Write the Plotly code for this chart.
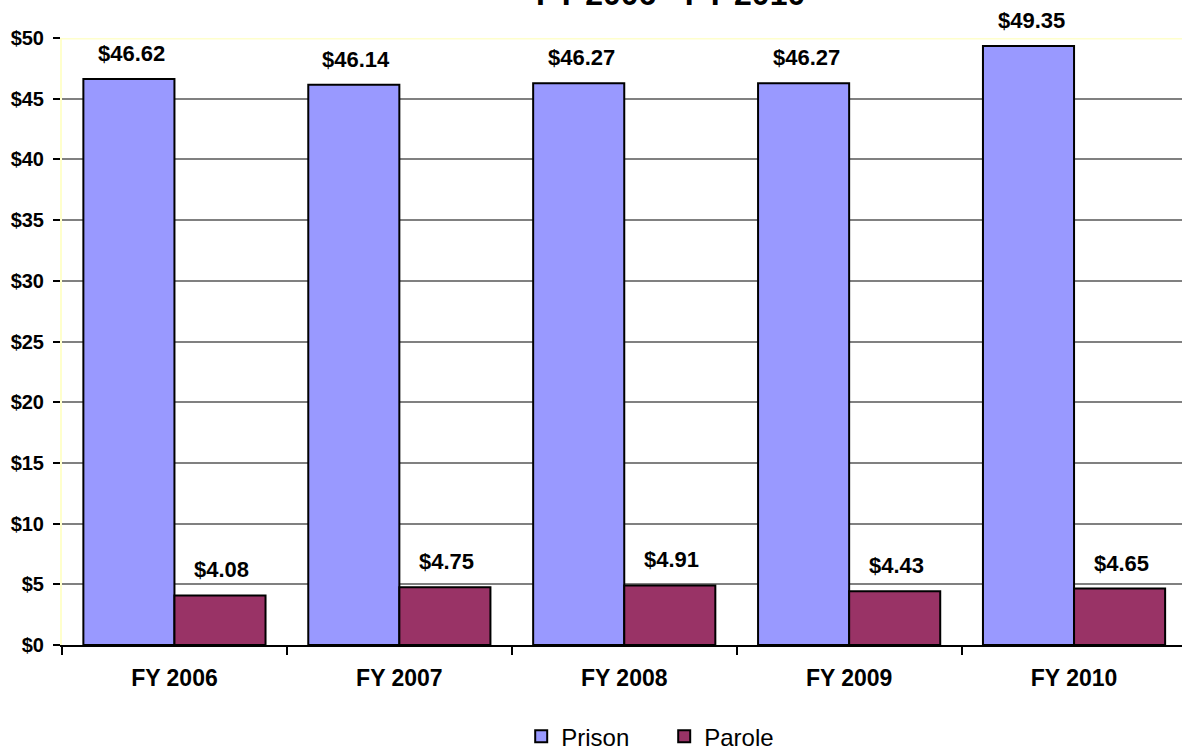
import plotly.graph_objects as go

categories = ["FY 2006", "FY 2007", "FY 2008", "FY 2009", "FY 2010"]
prison = [46.62, 46.14, 46.27, 46.27, 49.35]
parole = [4.08, 4.75, 4.91, 4.43, 4.65]
title_text = "FY 2006 - FY 2010"

FONT = "Liberation Sans, Arial, sans-serif"

fig = go.Figure()
fig.add_trace(go.Bar(name="Prison", x=categories, y=prison,
                     marker=dict(color="#9999FF", line=dict(color="black", width=2))))
fig.add_trace(go.Bar(name="Parole", x=categories, y=parole,
                     marker=dict(color="#993366", line=dict(color="black", width=2))))

annotations = []
for c, v in zip(categories, prison):
    annotations.append(dict(x=c, y=v, xref="x", yref="y", text=f"<b>${v:.2f}</b>",
                            showarrow=False, xshift=-43, yshift=11, yanchor="bottom",
                            font=dict(size=22, color="black", family=FONT)))
for c, v in zip(categories, parole):
    annotations.append(dict(x=c, y=v, xref="x", yref="y", text=f"<b>${v:.2f}</b>",
                            showarrow=False, xshift=47, yshift=11, yanchor="bottom",
                            font=dict(size=22, color="black", family=FONT)))
annotations.append(dict(x=0.5, y=1, xref="paper", yref="paper", text=f"<b>{title_text}</b>",
                        showarrow=False, yanchor="bottom", yshift=24, xshift=48,
                        font=dict(size=32, color="black", family=FONT)))

fig.update_layout(
    width=1182, height=751,
    margin=dict(l=62, r=0, t=38, b=106, autoexpand=False),
    plot_bgcolor="white", paper_bgcolor="white",
    barmode="group", bargap=0.19, bargroupgap=0,
    font=dict(family=FONT, color="black"),
    showlegend=True,
    legend=dict(orientation="h", x=0.41, xanchor="left", y=-0.114, yanchor="top",
                font=dict(size=24, family=FONT), itemwidth=30, traceorder="normal",
                entrywidth=98, entrywidthmode="pixels"),
    annotations=annotations,
    xaxis=dict(range=[-0.5, 4.48], showline=True, linecolor="black", linewidth=2,
               ticks="outside", tickson="boundaries", ticklen=8, tickcolor="black", tickwidth=2,
               tickfont=dict(size=23, family=FONT), showgrid=False, automargin=False,
               ticklabelstandoff=11, tickprefix="<b>", ticksuffix="</b>"),
    yaxis=dict(range=[0, 50], dtick=5, tickprefix="<b>$", ticksuffix="</b>", showgrid=True,
               gridcolor="#808080", gridwidth=2, showline=True, linecolor="#FFFFCC",
               linewidth=2, mirror=True, automargin=False, ticklabelstandoff=5,
               ticks="outside", ticklen=7, tickcolor="black", tickwidth=2,
               tickfont=dict(size=20, family=FONT), zeroline=False),
    shapes=[dict(type="line", xref="paper", yref="y", x0=0, x1=1, y0=50, y1=50,
                 line=dict(color="#FFFFCC", width=3), layer="above")],
)

fig.write_html("out.html", config={"displayModeBar": False},
               post_script="document.body.style.margin='0';document.body.style.overflow='hidden';")
